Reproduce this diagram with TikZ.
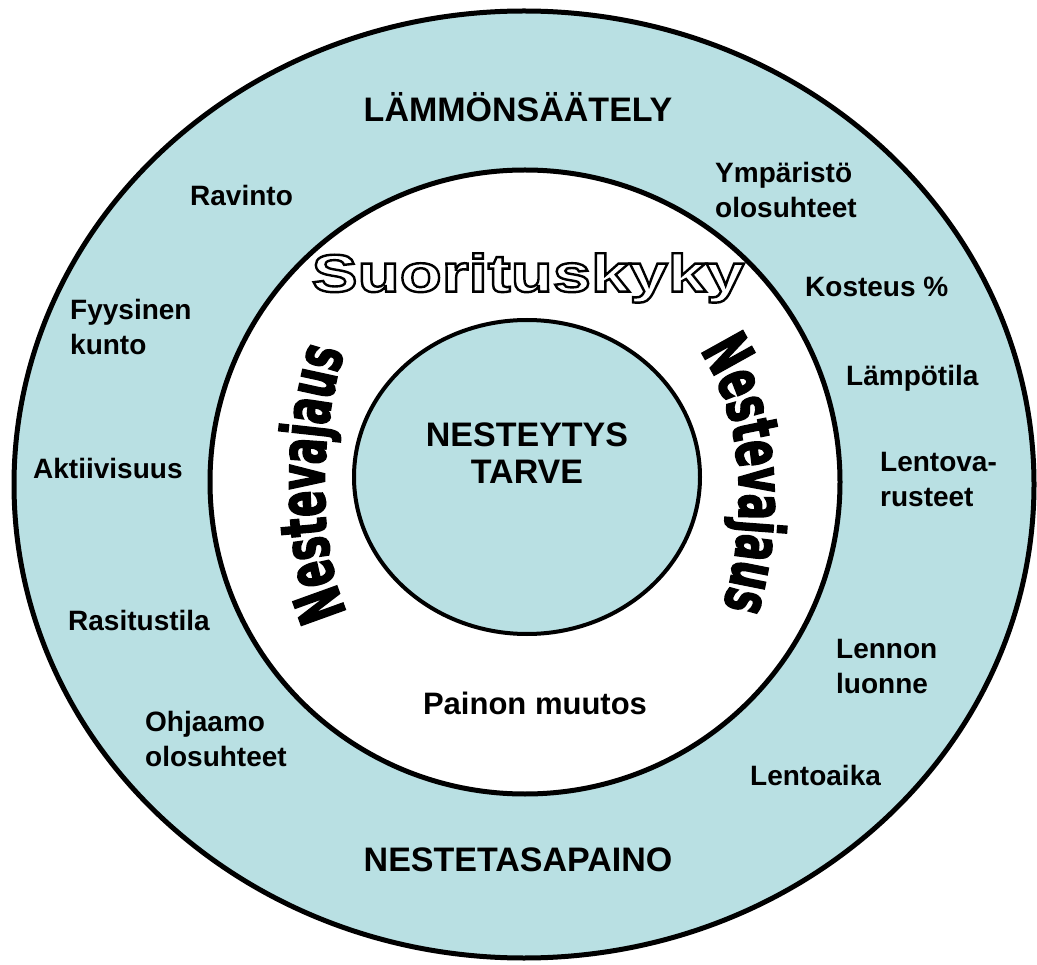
\documentclass[tikz,border=0pt]{standalone}
\usepackage{fontspec}
\setmainfont{Liberation Sans}
\newfontfamily\impactish[BoldFeatures={FakeStretch=0.6,FakeBold=2.5}]{DejaVu Sans}
\newfontfamily\widefont[BoldFeatures={FakeStretch=1.3}]{Liberation Sans}
\usetikzlibrary{decorations.text}
\definecolor{ringblue}{RGB}{185,224,227}
\newcommand{\hollowtext}[1]{\special{pdf:literal direct 1 Tr 2.4 w 0 G}#1\special{pdf:literal direct 0 Tr}}
\tikzset{
  ring/.style={draw=black, fill=ringblue},
  lbl/.style={font=\bfseries\fontsize{28}{35}\selectfont, align=left, anchor=west, inner sep=0pt},
  ttl/.style={font=\bfseries\fontsize{34}{37}\selectfont, align=center, inner sep=0pt},
  arcword/.style={decorate, decoration={text along path, text align=center,
    text={|\impactish\bfseries\fontsize{64}{64}\selectfont|Nestevajaus}}},
}
\begin{document}
\begin{tikzpicture}[x=1pt,y=-1pt]
\useasboundingbox (0,0) rectangle (1037,965);
\fill[white] (0,0) rectangle (1037,965);
% rings
\draw[ring, line width=5pt] (524,484.5) ellipse [x radius=510pt, y radius=473.5pt];
\draw[draw=black, fill=white, line width=5pt] (525,482) ellipse [x radius=315pt, y radius=312pt];
\draw[ring, line width=4pt] (527,477) ellipse [x radius=173pt, y radius=157pt];
% outer ring texts
\node[ttl] (lammo) at (518,107) {LÄMMÖNSÄÄTELY};
\node[ttl] (neste) at (518,860) {NESTETASAPAINO};
\node[lbl] (ravinto) at (190,195) {Ravinto};
\node[lbl] (ymp) at (715,190) {Ympäristö\\olosuhteet};
\node[lbl] (kost) at (805,287) {Kosteus \%};
\node[lbl] (fyys) at (70,327) {Fyysinen\\kunto};
\node[lbl] (lamp) at (846,378) {Lämpötila};
\node[lbl] (akt) at (33,468) {Aktiivisuus};
\node[lbl] (lentov) at (880,480) {Lentova-\\rusteet};
\node[lbl] (rasit) at (68,620) {Rasitustila};
\node[lbl] (lennon) at (836,667) {Lennon\\luonne};
\node[lbl] (ohj) at (145,739) {Ohjaamo\\olosuhteet};
\node[lbl] (lentoaika) at (750,775) {Lentoaika};
% inner texts
\node[ttl] (tarve) at (527,453) {NESTEYTYS\\TARVE};
\node[font=\bfseries\fontsize{31}{35}\selectfont, inner sep=0pt] (painon) at (535,703) {Painon muutos};
\node[inner sep=0pt] (suor) at (528,278) {\widefont\bfseries\fontsize{53}{53}\selectfont\hollowtext{Suorituskyky}};
% Nestevajaus arcs
\path[arcword] (352,622) .. controls (314,555) and (318,420) .. (348,342);
\path[arcword] (698,348) .. controls (748,420) and (748,530) .. (722,610);
\end{tikzpicture}
\end{document}
